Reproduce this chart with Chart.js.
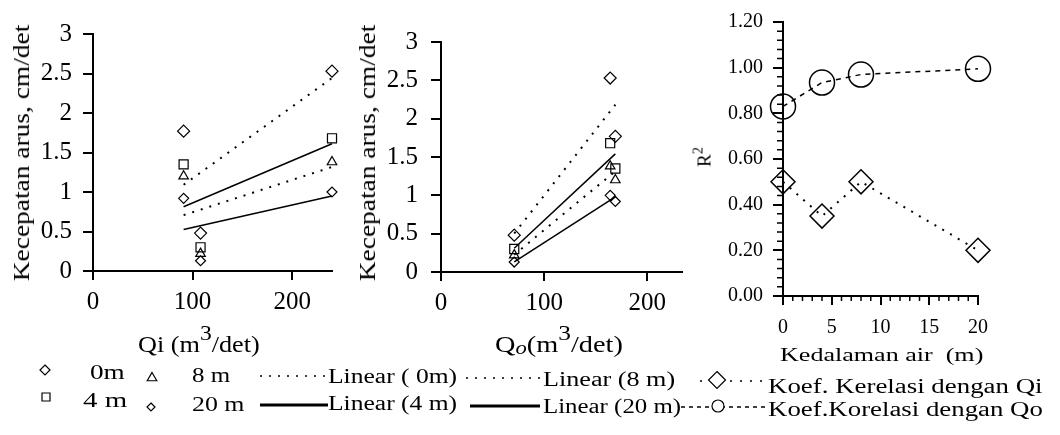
<!DOCTYPE html>
<html>
<head>
<meta charset="utf-8">
<script src="https://cdn.jsdelivr.net/npm/chart.js@4.4.1/dist/chart.umd.min.js"></script>
<style>
  html, body { margin: 0; padding: 0; background: #fff; }
  #page { position: relative; width: 1060px; height: 435px; overflow: hidden;
          font-family: "Liberation Serif", "Times New Roman", serif; color: #000; }
  .box { position: absolute; }
  .lbl { position: absolute; white-space: nowrap; line-height: 1; }
  .sup { position: relative; top: -0.55em; font-size: 0.9em; }
  #keys { position: absolute; left: 0; top: 0; }
</style>
</head>
<body>
<div id="page">
  <canvas id="qiChart" class="box" width="345" height="320" style="left:0;top:0"></canvas>
  <canvas id="qoChart" class="box" width="345" height="320" style="left:345px;top:0"></canvas>
  <canvas id="r2Chart" class="box" width="370" height="345" style="left:690px;top:0"></canvas>
  <canvas id="keys" width="1060" height="435"></canvas>
</div>
<script>
// kedalaman pengukuran
const depthLabels = ['0m', '4 m', '8 m', '20 m'];

// debit masuk (Qi) dan keluar (Qo), m3/det, tiga pengamatan
const qiFlow = [91, 108, 240];
const qoFlow = [169, 71, 164];

// kecepatan arus (cm/det) per kedalaman, urutan sama dengan debit
const speed0m = [1.77, 0.48, 2.53];
const speed4m = [1.35, 0.30, 1.68];
const speed8m = [1.20, 0.22, 1.38];
const speed20m = [0.92, 0.13, 1.00];

// koefisien determinasi terhadap kedalaman
const depthAxis = [0, 4, 8, 20];
const r2Qi = [0.50, 0.35, 0.50, 0.20];
const r2Qo = [0.83, 0.935, 0.97, 0.995];

// label sumbu
const flowTicks = [0, 100, 200];
const speedTicks = [0, 0.5, 1, 1.5, 2, 2.5, 3];
const depthTicks = [0, 5, 10, 15, 20];
const r2Ticks = [0, 0.2, 0.4, 0.6, 0.8, 1.0, 1.2];

const speedSeries = [speed0m, speed4m, speed8m, speed20m];

const depthStyles = [
  { point: 'rectRot', radius: 6, dash: [2, 7], width: 2 },
  { point: 'rect', radius: 6.4, dash: [], width: 1.5 },
  { point: 'triangle', radius: 5.5, dash: [2, 7], width: 2 },
  { point: 'rectRot', radius: 5, dash: [], width: 1.5 },
];

Chart.defaults.font.family = "'Liberation Serif', 'Times New Roman', serif";
Chart.defaults.color = '#000';

// garis regresi linier (seperti trendline Excel) dari titik pengamatan
function trendLine(xs, ys) {
  const n = xs.length;
  const mx = xs.reduce((a, b) => a + b, 0) / n;
  const my = ys.reduce((a, b) => a + b, 0) / n;
  let sxy = 0, sxx = 0;
  xs.forEach((x, i) => {
    sxy += (x - mx) * (ys[i] - my);
    sxx += (x - mx) * (x - mx);
  });
  const slope = sxy / sxx;
  return [Math.min(...xs), Math.max(...xs)].map(x => ({ x, y: my + slope * (x - mx) }));
}

function axisLines(tickLength) {
  return {
    grid: { drawOnChartArea: false, drawTicks: true, tickLength, color: '#000', lineWidth: 2 },
    border: { display: true, color: '#000', width: 2 },
  };
}

function speedChart(id, flow, flowMax, frame) {
  const datasets = [];
  speedSeries.forEach((speeds, i) => {
    const st = depthStyles[i];
    datasets.push({
      label: depthLabels[i],
      data: flow.map((q, j) => ({ x: q, y: speeds[j] })),
      showLine: false,
      pointStyle: st.point,
      pointRadius: st.radius,
      pointBorderWidth: 1.2,
      pointBorderColor: '#000',
      pointBackgroundColor: 'rgba(0,0,0,0)',
      clip: false,
    });
    datasets.push({
      label: 'Linear (' + depthLabels[i] + ')',
      data: trendLine(flow, speeds),
      showLine: true,
      pointRadius: 0,
      borderColor: '#000',
      borderWidth: st.width,
      borderDash: st.dash,
      clip: false,
    });
  });

  return new Chart(document.getElementById(id), {
    type: 'scatter',
    data: { datasets },
    options: {
      responsive: false,
      animation: false,
      layout: { padding: { top: frame.top, right: frame.right, left: 0, bottom: 0 } },
      plugins: { legend: { display: false }, tooltip: { enabled: false } },
      scales: {
        x: {
          type: 'linear', min: 0, max: flowMax,
          afterBuildTicks: s => { s.ticks = flowTicks.map(v => ({ value: v })); },
          afterFit: s => { s.height = frame.xHeight; },
          ticks: { font: { size: 25 }, padding: 7, maxRotation: 0, callback: v => String(v) },
          ...axisLines(9),
        },
        y: {
          type: 'linear', min: 0, max: 3,
          afterBuildTicks: s => { s.ticks = speedTicks.map(v => ({ value: v })); },
          afterFit: s => { s.width = frame.yWidth; },
          ticks: { font: { size: 25 }, padding: frame.yPad, callback: v => String(v) },
          ...axisLines(10),
        },
      },
    },
  });
}

speedChart('qiChart', qiFlow, 240, { top: 34, right: 13, xHeight: 49, yWidth: 93, yPad: 11 });
speedChart('qoChart', qoFlow, 234, { top: 42, right: 3, xHeight: 48, yWidth: 96, yPad: 13 });

// tanda skala kecil pada grafik R2
const minorTicks = {
  id: 'minorTicks',
  afterDraw(chart, args, opts) {
    const { ctx, chartArea, scales: { x, y } } = chart;
    ctx.save();
    ctx.strokeStyle = '#000';
    ctx.lineWidth = 1.5;
    ctx.beginPath();
    for (let i = 1; i * opts.yStep < y.max; i++) {
      if (i % opts.yEvery === 0) continue;
      const py = y.getPixelForValue(i * opts.yStep);
      ctx.moveTo(chartArea.left - 6, py);
      ctx.lineTo(chartArea.left, py);
    }
    for (let i = 1; i * opts.xStep < x.max; i++) {
      if (i % opts.xEvery === 0) continue;
      const px = x.getPixelForValue(i * opts.xStep);
      ctx.moveTo(px, chartArea.bottom);
      ctx.lineTo(px, chartArea.bottom + 5);
    }
    ctx.stroke();
    ctx.restore();
  },
};

new Chart(document.getElementById('r2Chart'), {
  type: 'scatter',
  data: {
    datasets: [
      {
        label: 'Koef. Kerelasi dengan Qi',
        data: depthAxis.map((d, i) => ({ x: d, y: r2Qi[i] })),
        showLine: true,
        borderColor: '#000',
        borderWidth: 2,
        borderDash: [2, 7],
        pointStyle: 'rectRot',
        pointRadius: 12,
        pointBorderWidth: 1.5,
        pointBorderColor: '#000',
        pointBackgroundColor: 'rgba(0,0,0,0)',
        clip: false,
      },
      {
        label: 'Koef.Korelasi dengan Qo',
        data: depthAxis.map((d, i) => ({ x: d, y: r2Qo[i] })),
        showLine: true,
        borderColor: '#000',
        borderWidth: 1.5,
        borderDash: [5, 5],
        pointStyle: 'circle',
        pointRadius: 12.5,
        pointBorderWidth: 1.5,
        pointBorderColor: '#000',
        pointBackgroundColor: 'rgba(0,0,0,0)',
        clip: false,
      },
    ],
  },
  options: {
    responsive: false,
    animation: false,
    layout: { padding: { top: 15, right: 82, left: 0, bottom: 0 } },
    plugins: {
      legend: { display: false },
      tooltip: { enabled: false },
      minorTicks: { xStep: 1, xEvery: 5, yStep: 0.04, yEvery: 5 },
    },
    scales: {
      x: {
        type: 'linear', min: 0, max: 20,
        afterBuildTicks: s => { s.ticks = depthTicks.map(v => ({ value: v })); },
        afterFit: s => { s.height = 49; },
        ticks: { font: { size: 20 }, padding: 11, maxRotation: 0 },
        ...axisLines(9),
      },
      y: {
        type: 'linear', min: 0, max: 1.2,
        afterBuildTicks: s => { s.ticks = r2Ticks.map(v => ({ value: v })); },
        afterFit: s => { s.width = 93; },
        ticks: { font: { size: 20 }, padding: 10, callback: v => Number(v).toFixed(2) },
        ...axisLines(10),
      },
    },
  },
  plugins: [minorTicks],
});

// judul sumbu dan teks keterangan
const page = document.getElementById('page');

function place(html, left, cy, size, width, rotate) {
  const el = document.createElement('div');
  el.className = 'lbl';
  el.innerHTML = html;
  el.style.fontSize = size + 'px';
  page.appendChild(el);
  const k = width ? width / el.offsetWidth : 1;
  if (rotate) {
    el.style.left = left + 'px';
    el.style.top = cy + 'px';
    el.style.transform = `translate(-50%, -50%) rotate(-90deg) scaleX(${k})`;
  } else {
    el.style.left = left + 'px';
    el.style.top = (cy - el.offsetHeight / 2) + 'px';
    el.style.transformOrigin = '0 50%';
    el.style.transform = `scaleX(${k})`;
  }
}

place('Kecepatan arus, cm/det', 21, 153, 24, 257, true);
place('Kecepatan arus, cm/det', 367, 153, 24, 257, true);
place('R<span class="sup" style="font-size:0.75em">2</span>', 704, 157, 19, 0, true);

place('Qi (m<span class="sup">3</span>/det)', 138, 344, 23, 122);
place('Q<i style="font-size:0.8em;position:relative;top:0.15em">o</i>(m<span class="sup">3</span>/det)', 495, 344, 23, 128);
place('Kedalaman air&nbsp; (m)', 780, 354, 19, 203);

place('0m', 90, 372, 21, 35);
place('8 m', 192, 375, 21, 38);
place('4 m', 83, 400, 21, 44);
place('20 m', 192, 404, 21, 53);
place('Linear ( 0m)', 328, 376, 20, 129);
place('Linear (4 m)', 328, 403, 20, 129);
place('Linear (8 m)', 543, 379, 20, 132);
place('Linear (20 m)', 543, 406, 20, 138);
place('Koef. Kerelasi dengan Qi', 768, 386, 20, 274);
place('Koef.Korelasi dengan Qo', 768, 409, 20, 275);

// simbol keterangan
const keys = document.getElementById('keys').getContext('2d');
keys.strokeStyle = '#000';

function keyLine(x1, x2, y, width, dash) {
  keys.save();
  keys.lineWidth = width;
  keys.setLineDash(dash);
  keys.beginPath();
  keys.moveTo(x1, y);
  keys.lineTo(x2, y);
  keys.stroke();
  keys.restore();
}

function keyMarker(style, x, y, r) {
  keys.save();
  keys.lineWidth = 1.2;
  keys.beginPath();
  if (style === 'rectRot') {
    keys.moveTo(x, y - r); keys.lineTo(x + r, y); keys.lineTo(x, y + r); keys.lineTo(x - r, y);
    keys.closePath();
  } else if (style === 'rect') {
    keys.rect(x - r, y - r, 2 * r, 2 * r);
  } else if (style === 'triangle') {
    keys.moveTo(x, y - r); keys.lineTo(x + r * 0.87, y + r * 0.5); keys.lineTo(x - r * 0.87, y + r * 0.5);
    keys.closePath();
  } else {
    keys.arc(x, y, r, 0, Math.PI * 2);
  }
  keys.fillStyle = '#fff';
  keys.fill();
  keys.stroke();
  keys.restore();
}

keyMarker('rectRot', 45, 370, 5);
keyMarker('rect', 46, 397, 4);
keyMarker('triangle', 152, 378, 5.5);
keyMarker('rectRot', 151, 407, 4);
keyLine(260, 328, 376, 1.5, [2, 7]);
keyLine(260, 328, 405, 3, []);
keyLine(466, 540, 378, 1.5, [2, 7]);
keyLine(470, 540, 406, 3, []);
keyLine(700, 767, 381, 1.5, [2, 8]);
keyMarker('rectRot', 717, 380, 8.5);
keyLine(681, 767, 407, 1.5, [4, 4]);
keyMarker('circle', 718, 406, 6);
</script>
</body>
</html>
